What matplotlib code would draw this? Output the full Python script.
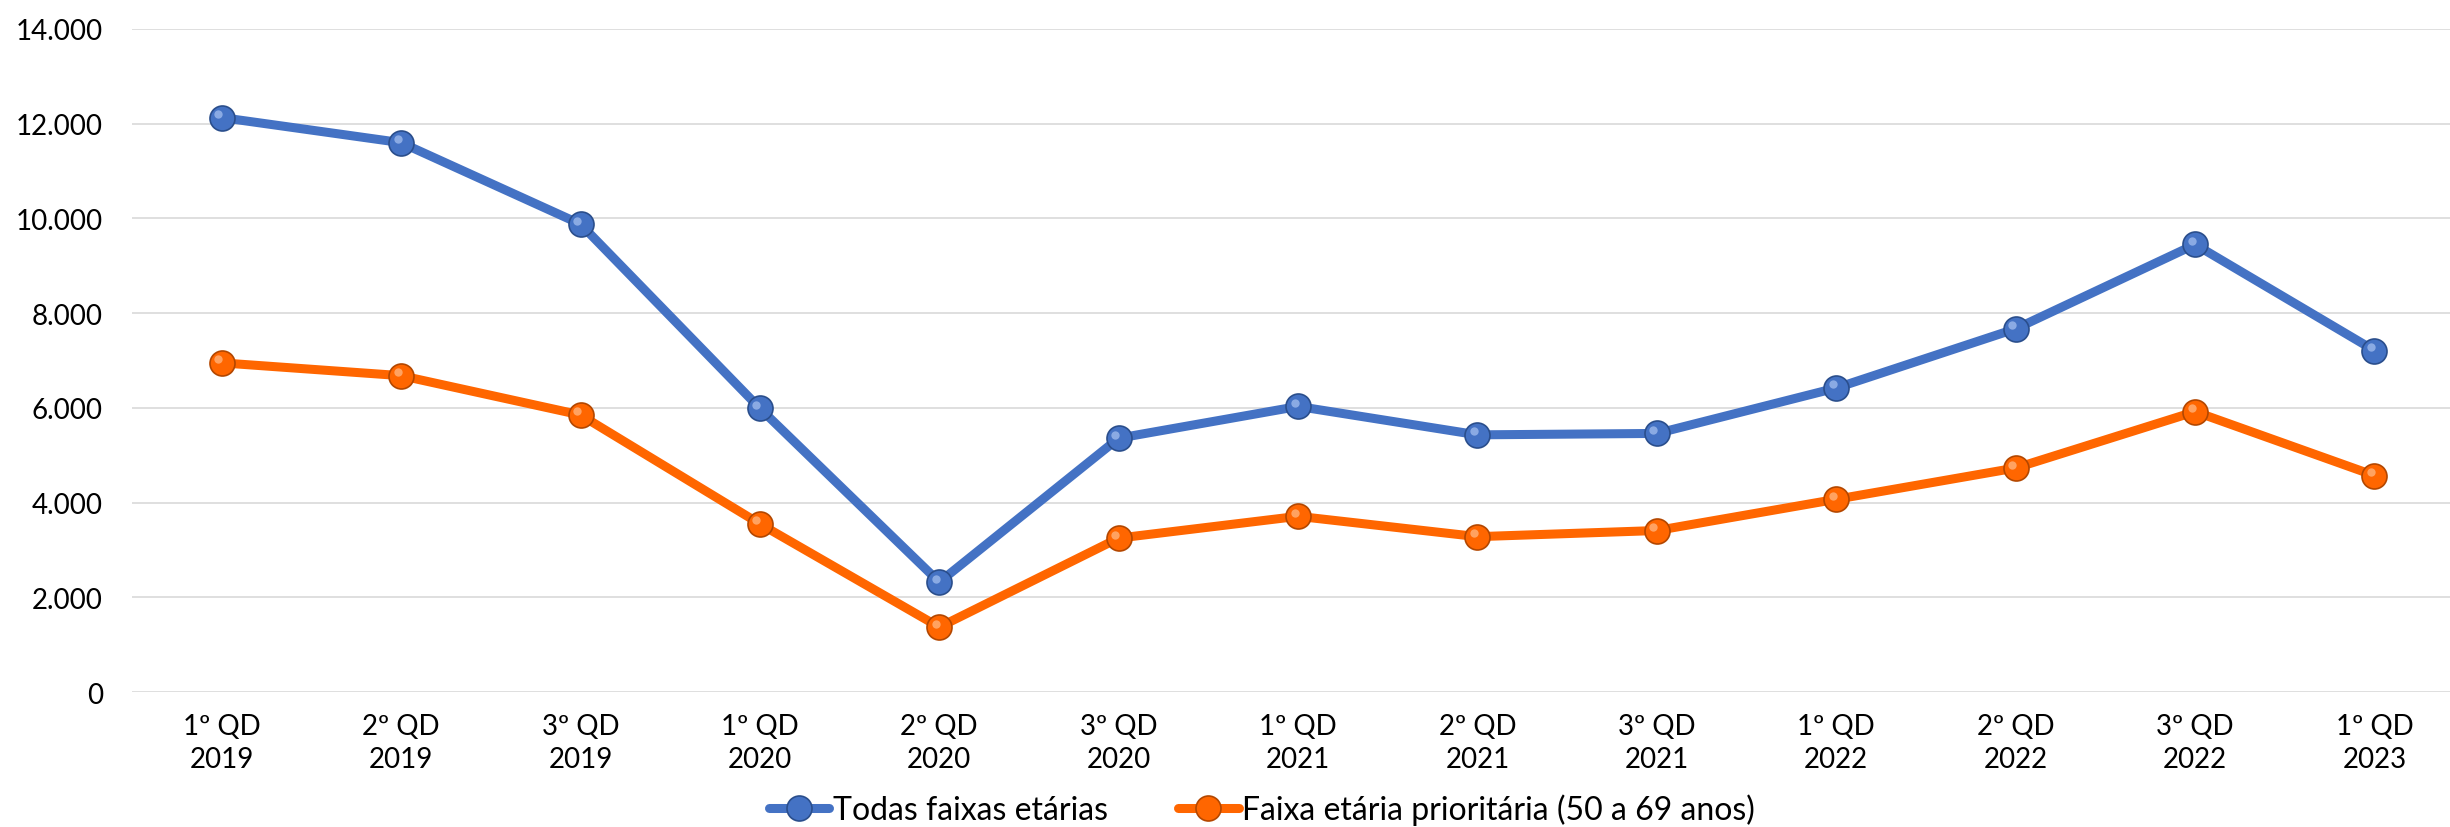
import numpy as np
import matplotlib.pyplot as plt
from matplotlib.ticker import FuncFormatter
from matplotlib.transforms import offset_copy

# Data
periods = ['1º QD\n2019', '2º QD\n2019', '3º QD\n2019',
           '1º QD\n2020', '2º QD\n2020', '3º QD\n2020',
           '1º QD\n2021', '2º QD\n2021', '3º QD\n2021',
           '1º QD\n2022', '2º QD\n2022', '3º QD\n2022',
           '1º QD\n2023']
todas = [12130, 11600, 9880, 5990, 2320, 5360, 6030, 5430, 5460, 6420, 7670, 9450, 7210]
prioritaria = [6950, 6680, 5850, 3550, 1370, 3250, 3710, 3280, 3410, 4070, 4730, 5920, 4570]

series_names = ['Todas faixas etárias', 'Faixa etária prioritária (50 a 69 anos)']

plt.rcParams['font.family'] = ['Lato', 'DejaVu Sans']

fig = plt.figure(figsize=(24.5, 8.28), dpi=100)
ax = fig.add_axes([132 / 2450, 1 - 693 / 828, 1 - 132 / 2450, (693 - 30) / 828])

x = np.arange(len(periods))

styles = [
    (todas, '#4472C4', '#2A4E8C', '#9DB9EC'),
    (prioritaria, '#FF6600', '#B34700', '#FFB27A'),
]

handles = []
for (vals, col, dark, light), name in zip(styles, series_names):
    h, = ax.plot(x, vals, color=col, lw=6.5, marker='o', markersize=18,
                 markerfacecolor=col, markeredgecolor=dark, markeredgewidth=1.2,
                 label=name, zorder=3, solid_capstyle='round')
    # small highlight to suggest the sphere look
    tr = offset_copy(ax.transData, fig=fig, x=-2.5, y=2.5, units='points')
    ax.plot(x, vals, linestyle='none', marker='o', markersize=6,
            markerfacecolor=light, markeredgecolor='none', alpha=0.8,
            transform=tr, zorder=4)
    handles.append(h)

ax.set_xlim(-0.5, -0.5 + (2450 - 132) / 179.4)
ax.set_ylim(0, 14000)
ax.set_yticks(np.arange(0, 14001, 2000))
ax.yaxis.set_major_formatter(FuncFormatter(lambda v, p: f'{int(v):,}'.replace(',', '.')))
ax.set_xticks(x)
ax.set_xticklabels(periods, fontsize=20, linespacing=1.35)
ax.tick_params(axis='y', length=0, pad=21, labelsize=20)
ax.tick_params(axis='x', length=0, pad=15)

ax.grid(axis='y', color='#D9D9D9', lw=1.2)
ax.set_axisbelow(True)
for s in ax.spines.values():
    s.set_visible(False)

fig.legend(handles=handles, loc='center', bbox_to_anchor=(0.515, 1 - 810 / 828),
           ncol=2, frameon=False, fontsize=23, handlelength=1.9,
           handletextpad=0.1, columnspacing=2.2)

fig.savefig('out.png', dpi=100)
